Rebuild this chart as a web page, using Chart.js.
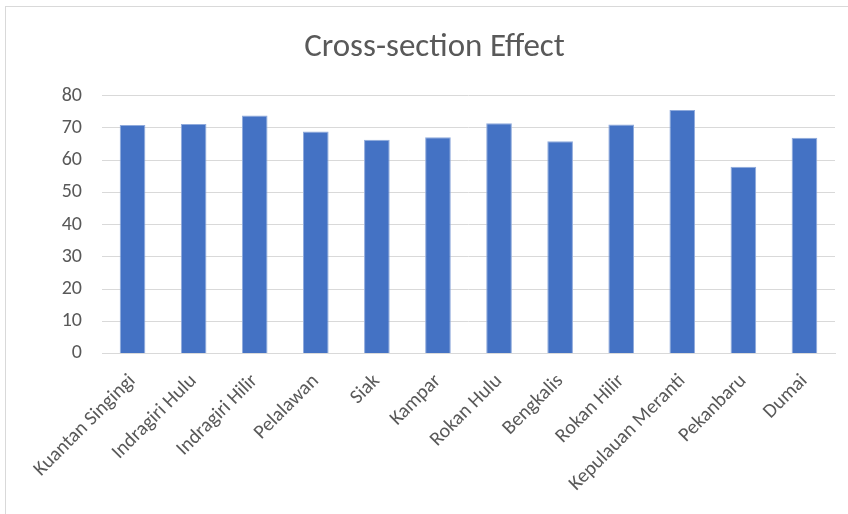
<!DOCTYPE html>
<html>
<head>
<meta charset="utf-8">
<script src="https://cdn.jsdelivr.net/npm/chart.js@4"></script>
<style>
  html,body{margin:0;padding:0;background:#fff;}
  #wrap{position:relative;width:848px;height:514px;}
  #frame{position:absolute;left:5px;top:6px;width:900px;height:600px;border:1px solid #d9d9d9;box-sizing:border-box;}
  canvas{position:absolute;left:0;top:0;}
</style>
</head>
<body>
<div id="wrap">
<div id="frame"></div>
<canvas id="c" width="848" height="514"></canvas>
</div>
<script>
const categories = ["Kuantan Singingi","Indragiri Hulu","Indragiri Hilir","Pelalawan","Siak","Kampar","Rokan Hulu","Bengkalis","Rokan Hilir","Kepulauan Meranti","Pekanbaru","Dumai"];
const values = [70.9, 71.2, 73.8, 68.9, 66.3, 67.1, 71.4, 65.8, 71.0, 75.5, 57.9, 66.9];
const yTicks = [0,10,20,30,40,50,60,70,80];
const titleText = "Cross-section Effect";

new Chart(document.getElementById('c'), {
  type: 'bar',
  data: {
    labels: categories,
    datasets: [{
      data: values,
      backgroundColor: '#4472c4',
      borderColor: '#8faadc',
      borderWidth: 1,
      categoryPercentage: 0.42,
      barPercentage: 1.0
    }]
  },
  options: {
    responsive: false,
    animation: false,
    devicePixelRatio: 1,
    layout: { padding: { left: 34, right: 13, top: 22, bottom: 10 } },
    plugins: {
      legend: { display: false },
      tooltip: { enabled: false },
      title: {
        display: true,
        text: titleText,
        color: '#595959',
        font: { family: 'Carlito, Open Sans', size: 33, weight: 'normal' },
        padding: { top: 6, bottom: 28 }
      }
    },
    scales: {
      x: {
        grid: { display: false },
        border: { color: '#d9d9d9', width: 1 },
        ticks: {
          autoSkip: false,
          maxRotation: 45,
          minRotation: 45,
          color: '#595959',
          padding: 8,
          font: { family: 'Carlito, Open Sans', size: 20 }
        }
      },
      y: {
        min: 0,
        max: 80,
        afterBuildTicks: (axis) => { axis.ticks = yTicks.map(v => ({ value: v })); },
        afterFit: (axis) => { axis.width = 68; },
        grid: { color: '#d9d9d9', lineWidth: 1, drawTicks: false },
        border: { display: false },
        ticks: {
          color: '#595959',
          padding: 20,
          font: { family: 'Carlito, Open Sans', size: 20 }
        }
      }
    }
  }
});
</script>
</body>
</html>
